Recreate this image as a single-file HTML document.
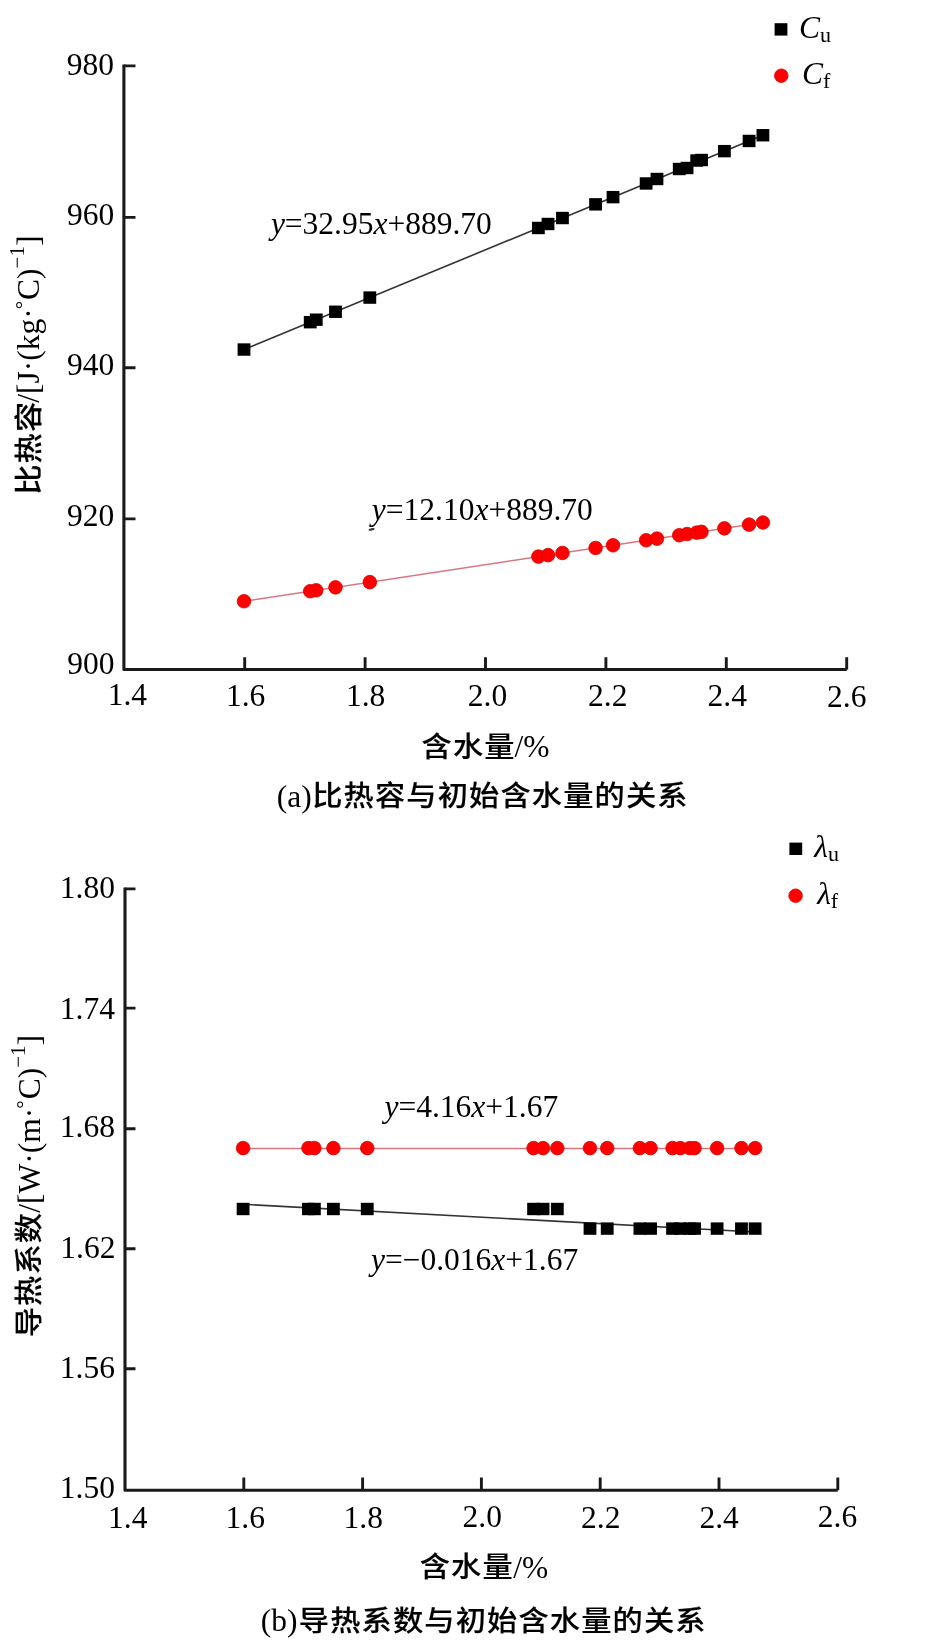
<!DOCTYPE html><html><head><meta charset="utf-8"><style>
html,body{margin:0;padding:0;background:#fff;width:928px;height:1648px;overflow:hidden}
svg{display:block;will-change:transform}
text{font-family:"Liberation Serif", "Noto Sans CJK SC", serif;fill:#000}
.t{font-size:31.5px}
.cj{font-family:"Noto Sans CJK SC", sans-serif;font-weight:500;font-size:28px;letter-spacing:1.07px;stroke:#000;stroke-width:0.15px}
</style></head><body>
<svg width="928" height="1648" viewBox="0 0 928 1648">
<path d="M123.9 65.9 H135.5 M123.9 217.4 H135.5 M123.9 367.8 H135.5 M123.9 518.9 H135.5" stroke="#1a1a1a" stroke-width="2.9" fill="none"/>
<path d="M244.7 669.6 V657.3 M365.1 669.6 V657.3 M485.5 669.6 V657.3 M605.9 669.6 V657.3 M726.3 669.6 V657.3 M846.7 669.6 V657.3 " stroke="#1a1a1a" stroke-width="2.9" fill="none"/>
<path d="M123.9 64.4 V669.5 H846.8" stroke="#1a1a1a" stroke-width="3.1" fill="none" stroke-linejoin="round"/>
<line x1="244.00" y1="349.54" x2="762.92" y2="135.24" stroke="#333" stroke-width="1.6"/>
<line x1="244.00" y1="601.24" x2="762.92" y2="522.55" stroke="#d7787f" stroke-width="1.5"/>
<rect x="237.60" y="343.34" width="12.8" height="12.4" fill="#000"/>
<rect x="303.82" y="315.99" width="12.8" height="12.4" fill="#000"/>
<rect x="309.84" y="313.51" width="12.8" height="12.4" fill="#000"/>
<rect x="329.10" y="305.55" width="12.8" height="12.4" fill="#000"/>
<rect x="363.42" y="291.38" width="12.8" height="12.4" fill="#000"/>
<rect x="531.98" y="221.77" width="12.8" height="12.4" fill="#000"/>
<rect x="541.61" y="217.79" width="12.8" height="12.4" fill="#000"/>
<rect x="556.06" y="211.83" width="12.8" height="12.4" fill="#000"/>
<rect x="589.17" y="198.15" width="12.8" height="12.4" fill="#000"/>
<rect x="606.63" y="190.94" width="12.8" height="12.4" fill="#000"/>
<rect x="639.74" y="177.27" width="12.8" height="12.4" fill="#000"/>
<rect x="650.57" y="172.80" width="12.8" height="12.4" fill="#000"/>
<rect x="672.85" y="162.80" width="12.8" height="12.4" fill="#000"/>
<rect x="680.67" y="161.80" width="12.8" height="12.4" fill="#000"/>
<rect x="690.30" y="154.30" width="12.8" height="12.4" fill="#000"/>
<rect x="695.12" y="153.80" width="12.8" height="12.4" fill="#000"/>
<rect x="718.00" y="144.95" width="12.8" height="12.4" fill="#000"/>
<rect x="742.68" y="134.76" width="12.8" height="12.4" fill="#000"/>
<rect x="756.52" y="129.04" width="12.8" height="12.4" fill="#000"/>
<circle cx="244.00" cy="601.24" r="6.8" fill="#f00" stroke="#d00" stroke-width="0.8"/>
<circle cx="310.22" cy="591.20" r="6.8" fill="#f00" stroke="#d00" stroke-width="0.8"/>
<circle cx="316.24" cy="590.29" r="6.8" fill="#f00" stroke="#d00" stroke-width="0.8"/>
<circle cx="335.50" cy="587.37" r="6.8" fill="#f00" stroke="#d00" stroke-width="0.8"/>
<circle cx="369.82" cy="582.16" r="6.8" fill="#f00" stroke="#d00" stroke-width="0.8"/>
<circle cx="538.38" cy="556.60" r="6.8" fill="#f00" stroke="#d00" stroke-width="0.8"/>
<circle cx="548.01" cy="555.14" r="6.8" fill="#f00" stroke="#d00" stroke-width="0.8"/>
<circle cx="562.46" cy="552.95" r="6.8" fill="#f00" stroke="#d00" stroke-width="0.8"/>
<circle cx="595.57" cy="547.93" r="6.8" fill="#f00" stroke="#d00" stroke-width="0.8"/>
<circle cx="613.03" cy="545.28" r="6.8" fill="#f00" stroke="#d00" stroke-width="0.8"/>
<circle cx="646.14" cy="540.26" r="6.8" fill="#f00" stroke="#d00" stroke-width="0.8"/>
<circle cx="656.97" cy="538.61" r="6.8" fill="#f00" stroke="#d00" stroke-width="0.8"/>
<circle cx="679.25" cy="535.24" r="6.8" fill="#f00" stroke="#d00" stroke-width="0.8"/>
<circle cx="687.07" cy="534.05" r="6.8" fill="#f00" stroke="#d00" stroke-width="0.8"/>
<circle cx="696.70" cy="532.59" r="6.8" fill="#f00" stroke="#d00" stroke-width="0.8"/>
<circle cx="701.52" cy="531.86" r="6.8" fill="#f00" stroke="#d00" stroke-width="0.8"/>
<circle cx="724.40" cy="528.39" r="6.8" fill="#f00" stroke="#d00" stroke-width="0.8"/>
<circle cx="749.08" cy="524.65" r="6.8" fill="#f00" stroke="#d00" stroke-width="0.8"/>
<circle cx="762.92" cy="522.55" r="6.8" fill="#f00" stroke="#d00" stroke-width="0.8"/>
<ellipse cx="371.6" cy="529.3" rx="3.2" ry="1.1" transform="rotate(-12 371.6 529.3)" fill="#333"/>
<rect x="774.60" y="23.20" width="12.8" height="12.4" fill="#000"/>
<circle cx="781.30" cy="75.70" r="6.8" fill="#f00" stroke="#d00" stroke-width="0.8"/>
<path d="M125 888.9 H135.5 M125 1008.1 H135.5 M125 1128.7 H135.5 M125 1248.7 H135.5 M125 1368.7 H135.5 " stroke="#1a1a1a" stroke-width="2.9" fill="none"/>
<path d="M243.8 1490.3 V1477.5 M362.6 1490.3 V1477.5 M481.4 1490.3 V1477.5 M600.2 1490.3 V1477.5 M719.0 1490.3 V1477.5 M837.8 1490.3 V1477.5 " stroke="#1a1a1a" stroke-width="2.9" fill="none"/>
<path d="M125 887.4 V1490.3 H837.7" stroke="#1a1a1a" stroke-width="3.1" fill="none" stroke-linejoin="round"/>
<line x1="243.10" y1="1148.5" x2="755.13" y2="1148.5" stroke="#d7787f" stroke-width="1.5"/>
<line x1="243.10" y1="1204.3" x2="755.13" y2="1231.95" stroke="#333" stroke-width="1.6"/>
<rect x="236.70" y="1202.80" width="12.8" height="12.4" fill="#000"/>
<rect x="302.04" y="1202.80" width="12.8" height="12.4" fill="#000"/>
<rect x="307.98" y="1202.80" width="12.8" height="12.4" fill="#000"/>
<rect x="326.99" y="1202.80" width="12.8" height="12.4" fill="#000"/>
<rect x="360.85" y="1202.80" width="12.8" height="12.4" fill="#000"/>
<rect x="527.17" y="1202.80" width="12.8" height="12.4" fill="#000"/>
<rect x="536.67" y="1202.80" width="12.8" height="12.4" fill="#000"/>
<rect x="550.93" y="1202.80" width="12.8" height="12.4" fill="#000"/>
<rect x="583.60" y="1222.40" width="12.8" height="12.4" fill="#000"/>
<rect x="600.82" y="1222.40" width="12.8" height="12.4" fill="#000"/>
<rect x="633.49" y="1222.40" width="12.8" height="12.4" fill="#000"/>
<rect x="644.18" y="1222.40" width="12.8" height="12.4" fill="#000"/>
<rect x="666.16" y="1222.40" width="12.8" height="12.4" fill="#000"/>
<rect x="673.88" y="1222.40" width="12.8" height="12.4" fill="#000"/>
<rect x="683.39" y="1222.40" width="12.8" height="12.4" fill="#000"/>
<rect x="688.14" y="1222.40" width="12.8" height="12.4" fill="#000"/>
<rect x="710.71" y="1222.40" width="12.8" height="12.4" fill="#000"/>
<rect x="735.07" y="1222.40" width="12.8" height="12.4" fill="#000"/>
<rect x="748.73" y="1222.40" width="12.8" height="12.4" fill="#000"/>
<circle cx="243.10" cy="1148.10" r="6.8" fill="#f00" stroke="#d00" stroke-width="0.8"/>
<circle cx="308.44" cy="1148.10" r="6.8" fill="#f00" stroke="#d00" stroke-width="0.8"/>
<circle cx="314.38" cy="1148.10" r="6.8" fill="#f00" stroke="#d00" stroke-width="0.8"/>
<circle cx="333.39" cy="1148.10" r="6.8" fill="#f00" stroke="#d00" stroke-width="0.8"/>
<circle cx="367.25" cy="1148.10" r="6.8" fill="#f00" stroke="#d00" stroke-width="0.8"/>
<circle cx="533.57" cy="1148.10" r="6.8" fill="#f00" stroke="#d00" stroke-width="0.8"/>
<circle cx="543.07" cy="1148.10" r="6.8" fill="#f00" stroke="#d00" stroke-width="0.8"/>
<circle cx="557.33" cy="1148.10" r="6.8" fill="#f00" stroke="#d00" stroke-width="0.8"/>
<circle cx="590.00" cy="1148.10" r="6.8" fill="#f00" stroke="#d00" stroke-width="0.8"/>
<circle cx="607.22" cy="1148.10" r="6.8" fill="#f00" stroke="#d00" stroke-width="0.8"/>
<circle cx="639.89" cy="1148.10" r="6.8" fill="#f00" stroke="#d00" stroke-width="0.8"/>
<circle cx="650.58" cy="1148.10" r="6.8" fill="#f00" stroke="#d00" stroke-width="0.8"/>
<circle cx="672.56" cy="1148.10" r="6.8" fill="#f00" stroke="#d00" stroke-width="0.8"/>
<circle cx="680.28" cy="1148.10" r="6.8" fill="#f00" stroke="#d00" stroke-width="0.8"/>
<circle cx="689.79" cy="1148.10" r="6.8" fill="#f00" stroke="#d00" stroke-width="0.8"/>
<circle cx="694.54" cy="1148.10" r="6.8" fill="#f00" stroke="#d00" stroke-width="0.8"/>
<circle cx="717.11" cy="1148.10" r="6.8" fill="#f00" stroke="#d00" stroke-width="0.8"/>
<circle cx="741.47" cy="1148.10" r="6.8" fill="#f00" stroke="#d00" stroke-width="0.8"/>
<circle cx="755.13" cy="1148.10" r="6.8" fill="#f00" stroke="#d00" stroke-width="0.8"/>
<rect x="789.40" y="842.60" width="12.8" height="12.4" fill="#000"/>
<circle cx="795.60" cy="895.70" r="6.8" fill="#f00" stroke="#d00" stroke-width="0.8"/>
<text id="ay980" class="t" x="114.04" y="74.52" text-anchor="end">980</text>
<text id="ay960" class="t" x="114.22" y="224.67" text-anchor="end">960</text>
<text id="ay940" class="t" x="114.22" y="374.67" text-anchor="end">940</text>
<text id="ay920" class="t" x="114.22" y="525.88" text-anchor="end">920</text>
<text id="ay900" class="t" x="114.58" y="674.09" text-anchor="end">900</text>
<text id="ax1.4" class="t" x="127.40" y="705.46" text-anchor="middle">1.4</text>
<text id="ax1.6" class="t" x="245.66" y="706.00" text-anchor="middle">1.6</text>
<text id="ax1.8" class="t" x="365.60" y="706.00" text-anchor="middle">1.8</text>
<text id="ax2.0" class="t" x="487.50" y="706.45" text-anchor="middle">2.0</text>
<text id="ax2.2" class="t" x="607.76" y="706.00" text-anchor="middle">2.2</text>
<text id="ax2.4" class="t" x="727.30" y="706.00" text-anchor="middle">2.4</text>
<text id="ax2.6" class="t" x="846.81" y="706.72" text-anchor="middle">2.6</text>
<text id="eqCu" class="t" x="270.89" y="234.00"><tspan font-style="italic">y</tspan>=32.95<tspan font-style="italic">x</tspan>+889.70</text>
<text id="eqCf" class="t" x="371.81" y="519.84"><tspan font-style="italic">y</tspan>=12.10<tspan font-style="italic">x</tspan>+889.70</text>
<text id="legCu" class="t" x="799.10" y="38.01"><tspan font-style="italic">C</tspan><tspan font-size="22" dy="4">u</tspan></text>
<text id="legCf" class="t" x="802.09" y="83.83"><tspan font-style="italic">C</tspan><tspan font-size="22" dy="4">f</tspan></text>
<text id="xlabA_c" class="cj" transform="translate(421.54 757.18) scale(1.080 1)">含水量</text>
<text id="xlabA_l" class="t" x="514.46" y="757.18">/%</text>
<text id="capA_l" class="t" x="276.73" y="807.17">(a)</text>
<text id="capA_c" class="cj" transform="translate(312.20 806.45) scale(1.080 1)">比热容与初始含水量的关系</text>
<text id="ylabA_c" class="cj" transform="translate(38.74 494.80) rotate(-90) scale(1.080 1)">比热容</text>
<text id="ylabA_l" class="t" transform="translate(39.05 402.82) rotate(-90)">/[J·(kg·<tspan font-size="21" dx="-1" dy="-9">°</tspan><tspan dx="1" dy="9">C)</tspan><tspan font-size="21" dy="-14.6">−1</tspan><tspan dy="14.6">]</tspan></text>
<text id="by1.80" class="t" x="114.90" y="897.74" text-anchor="end">1.80</text>
<text id="by1.74" class="t" x="114.99" y="1018.95" text-anchor="end">1.74</text>
<text id="by1.68" class="t" x="114.99" y="1136.78" text-anchor="end">1.68</text>
<text id="by1.62" class="t" x="115.44" y="1258.41" text-anchor="end">1.62</text>
<text id="by1.56" class="t" x="114.99" y="1378.41" text-anchor="end">1.56</text>
<text id="by1.50" class="t" x="114.90" y="1497.92" text-anchor="end">1.50</text>
<text id="bx1.4" class="t" x="127.72" y="1527.54" text-anchor="middle">1.4</text>
<text id="bx1.6" class="t" x="245.28" y="1527.54" text-anchor="middle">1.6</text>
<text id="bx1.8" class="t" x="363.29" y="1527.54" text-anchor="middle">1.8</text>
<text id="bx2.0" class="t" x="482.30" y="1527.45" text-anchor="middle">2.0</text>
<text id="bx2.2" class="t" x="600.75" y="1527.54" text-anchor="middle">2.2</text>
<text id="bx2.4" class="t" x="719.17" y="1527.54" text-anchor="middle">2.4</text>
<text id="bx2.6" class="t" x="837.56" y="1527.00" text-anchor="middle">2.6</text>
<text id="eqLf" class="t" x="384.44" y="1117.09"><tspan font-style="italic">y</tspan>=4.16<tspan font-style="italic">x</tspan>+1.67</text>
<text id="eqLu" class="t" x="370.90" y="1270.02"><tspan font-style="italic">y</tspan>=−0.016<tspan font-style="italic">x</tspan>+1.67</text>
<text id="legLu" class="t" x="814.35" y="857.09"><tspan font-style="italic">λ</tspan><tspan font-size="22" dy="4">u</tspan></text>
<text id="legLf" class="t" x="817.16" y="903.54"><tspan font-style="italic">λ</tspan><tspan font-size="22" dy="4">f</tspan></text>
<text id="xlabB_c" class="cj" transform="translate(419.74 1577.28) scale(1.080 1)">含水量</text>
<text id="xlabB_l" class="t" x="513.20" y="1578.18">/%</text>
<text id="capB_l" class="t" x="260.82" y="1631.44">(b)</text>
<text id="capB_c" class="cj" transform="translate(298.82 1631.35) scale(1.080 1)">导热系数与初始含水量的关系</text>
<text id="ylabB_c" class="cj" transform="translate(38.56 1337.36) rotate(-90) scale(1.080 1)">导热系数</text>
<text id="ylabB_l" class="t" transform="translate(39.50 1212.64) rotate(-90)">/[W·(m·<tspan font-size="21" dx="-1" dy="-9">°</tspan><tspan dx="1" dy="9">C)</tspan><tspan font-size="21" dy="-14.6">−1</tspan><tspan dy="14.6">]</tspan></text>
</svg></body></html>
